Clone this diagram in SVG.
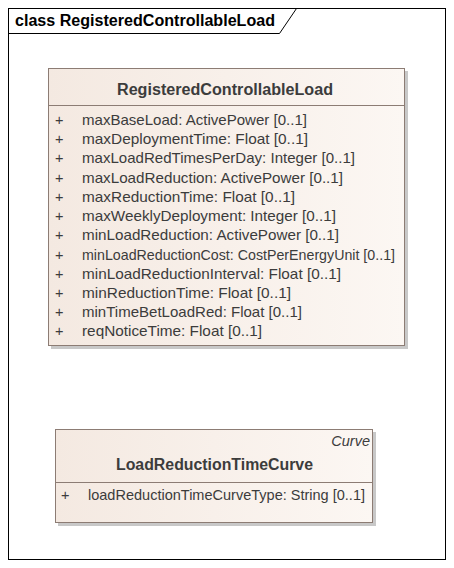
<svg xmlns="http://www.w3.org/2000/svg" width="454" height="568" viewBox="0 0 454 568">
<defs>
<linearGradient id="g" x1="0" y1="0" x2="1" y2="0">
<stop offset="0" stop-color="#f4e9e1"/>
<stop offset="1" stop-color="#fcf7f3"/>
</linearGradient>
<style>
text{font-family:"Liberation Sans",Arial,sans-serif;fill:#3c3c3c;font-size:14.5px}
.t{font-weight:bold;font-size:16px}
.box{fill:url(#g);stroke:#8c7c74;stroke-width:1}
.sh{fill:#c8c8c8}
.sep{stroke:#8c7c74;stroke-width:1}
.fr{fill:none;stroke:#000;stroke-width:1}
</style>
</defs>
<rect width="454" height="568" fill="#fff"/>
<g id="frame">
<rect class="fr" x="8.5" y="8.5" width="437" height="551"/>
<path class="fr" d="M8.5 33.5 H279.5 L296.5 8.5"/>
<text x="15" y="26" textLength="260" lengthAdjust="spacingAndGlyphs" style="font-weight:bold;font-size:16px;fill:#000">class RegisteredControllableLoad</text>
</g>
<g id="RegisteredControllableLoad">
<rect class="sh" x="51" y="71" width="357" height="278"/>
<rect class="box" x="48.5" y="68.5" width="356" height="277"/>
<line class="sep" x1="48.5" y1="105.5" x2="404.5" y2="105.5"/>
<text class="t" x="117" y="95" textLength="216" lengthAdjust="spacingAndGlyphs">RegisteredControllableLoad</text>
<g>
<text x="55" y="125">+</text><text x="82" y="125" textLength="225" lengthAdjust="spacingAndGlyphs">maxBaseLoad: ActivePower [0..1]</text>
<text x="55" y="144">+</text><text x="82" y="144" textLength="226" lengthAdjust="spacingAndGlyphs">maxDeploymentTime: Float [0..1]</text>
<text x="55" y="163">+</text><text x="82" y="163" textLength="273" lengthAdjust="spacingAndGlyphs">maxLoadRedTimesPerDay: Integer [0..1]</text>
<text x="55" y="183">+</text><text x="82" y="183" textLength="261" lengthAdjust="spacingAndGlyphs">maxLoadReduction: ActivePower [0..1]</text>
<text x="55" y="202">+</text><text x="82" y="202" textLength="213" lengthAdjust="spacingAndGlyphs">maxReductionTime: Float [0..1]</text>
<text x="55" y="221">+</text><text x="82" y="221" textLength="254" lengthAdjust="spacingAndGlyphs">maxWeeklyDeployment: Integer [0..1]</text>
<text x="55" y="240">+</text><text x="82" y="240" textLength="257" lengthAdjust="spacingAndGlyphs">minLoadReduction: ActivePower [0..1]</text>
<text x="55" y="260">+</text><text x="82" y="260" textLength="313" lengthAdjust="spacingAndGlyphs">minLoadReductionCost: CostPerEnergyUnit [0..1]</text>
<text x="55" y="279">+</text><text x="82" y="279" textLength="259" lengthAdjust="spacingAndGlyphs">minLoadReductionInterval: Float [0..1]</text>
<text x="55" y="298">+</text><text x="82" y="298" textLength="209" lengthAdjust="spacingAndGlyphs">minReductionTime: Float [0..1]</text>
<text x="55" y="317">+</text><text x="82" y="317" textLength="220" lengthAdjust="spacingAndGlyphs">minTimeBetLoadRed: Float [0..1]</text>
<text x="55" y="336">+</text><text x="82" y="336" textLength="180" lengthAdjust="spacingAndGlyphs">reqNoticeTime: Float [0..1]</text>
</g>
</g>
<g id="LoadReductionTimeCurve">
<rect class="sh" x="58" y="432" width="318" height="94"/>
<rect class="box" x="55.5" y="429.5" width="317" height="93"/>
<line class="sep" x1="55.5" y1="482.5" x2="372.5" y2="482.5"/>
<text x="370" y="446" style="font-style:italic;text-anchor:end">Curve</text>
<text class="t" x="116" y="470" textLength="197" lengthAdjust="spacingAndGlyphs">LoadReductionTimeCurve</text>
<text x="61" y="500">+</text><text x="88" y="500" textLength="277" lengthAdjust="spacingAndGlyphs">loadReductionTimeCurveType: String [0..1]</text>
</g>
</svg>
